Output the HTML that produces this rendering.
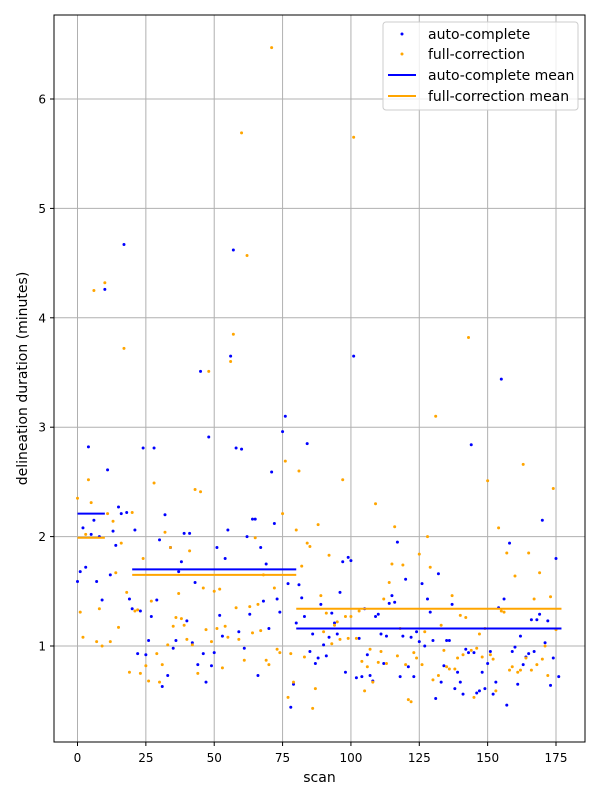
<!DOCTYPE html>
<html><head><meta charset="utf-8"><style>
body{margin:0;background:#fff;}
svg{display:block;font-family:"DejaVu Sans","Liberation Sans",sans-serif;}
</style></head><body>
<svg id="chart" width="600" height="800" viewBox="0 0 600 800" xmlns="http://www.w3.org/2000/svg">
<rect x="0" y="0" width="600" height="800" fill="#fff"/>
<g id="grid"></g>
<g id="marks"></g>
<rect x="54" y="15" width="531" height="727" fill="none" stroke="#000" stroke-width="1"/>
<g id="xticks"></g>
<g id="yticks"></g>
<text x="319.5" y="782" font-size="14" text-anchor="middle">scan</text>
<text transform="translate(27,378.5) rotate(-90)" font-size="14" text-anchor="middle">delineation duration (minutes)</text>
<g>
<rect x="383" y="22" width="195" height="88" rx="3" fill="#fff" fill-opacity="0.8" stroke="#ccc"/>
<circle cx="402" cy="34" r="1.5" fill="#0000ff"/>
<text x="428" y="39" font-size="14">auto-complete</text>
<circle cx="402" cy="54" r="1.5" fill="#ffa500"/>
<text x="428" y="59" font-size="14">full-correction</text>
<line x1="388" y1="75" x2="416" y2="75" stroke="#0000ff" stroke-width="2"/>
<text x="428" y="80" font-size="14">auto-complete mean</text>
<line x1="388" y1="96" x2="416" y2="96" stroke="#ffa500" stroke-width="2"/>
<text x="428" y="101" font-size="14">full-correction mean</text>
</g>
</svg>
<script>
const autoComplete=[1.59,1.68,2.08,1.72,2.82,2.02,2.15,1.59,2.0,1.42,4.26,2.61,1.65,2.05,1.92,2.27,2.21,4.67,2.22,1.43,1.34,2.06,0.93,1.32,2.81,0.92,1.05,1.27,2.81,1.42,1.97,0.63,2.2,0.73,1.9,0.98,1.05,1.68,1.77,2.03,1.23,2.03,1.03,1.58,0.83,3.51,0.93,0.67,2.91,0.82,0.94,1.9,1.28,1.09,1.8,2.06,3.65,4.62,2.81,1.13,2.8,0.98,2.0,1.29,2.16,2.16,0.73,1.9,1.41,1.75,1.16,2.59,2.12,1.43,1.31,2.96,3.1,1.57,0.44,0.65,1.21,1.56,1.44,1.27,2.85,0.95,1.11,0.84,0.89,1.38,1.01,0.91,1.08,1.3,1.21,1.11,1.49,1.77,0.76,1.81,1.78,3.65,0.71,1.07,0.72,1.34,0.92,0.73,0.68,1.27,1.29,1.11,0.84,1.09,1.39,1.46,1.4,1.95,0.72,1.09,1.61,0.81,1.08,0.72,1.13,1.04,1.57,1.0,1.43,1.31,1.05,0.52,1.66,0.67,0.82,1.05,1.05,1.38,0.61,0.76,0.67,0.56,0.97,0.94,2.84,0.94,0.57,0.59,0.76,0.61,0.84,0.95,0.56,0.67,1.35,3.44,1.43,0.46,1.94,0.95,0.99,0.65,1.09,0.83,0.9,0.93,1.24,0.95,1.24,1.29,2.15,1.03,1.23,0.64,0.89,1.8,0.72];
const fullCorrection=[2.35,1.31,1.08,2.02,2.52,2.31,4.25,1.04,1.34,1.0,4.32,2.21,1.04,2.14,1.67,1.17,1.94,3.72,1.49,0.76,2.22,1.32,1.33,0.75,1.8,0.82,0.68,1.41,2.49,0.93,0.67,0.83,2.04,1.01,1.9,1.18,1.26,1.48,1.25,1.19,1.06,1.87,1.01,2.43,0.75,2.41,1.53,1.15,3.51,1.04,1.5,1.16,1.52,0.8,1.18,1.08,3.6,3.85,1.35,1.06,5.69,0.87,4.57,1.36,1.12,1.99,1.38,1.14,1.65,0.87,0.83,6.47,1.53,0.97,0.94,2.21,2.69,0.53,0.93,0.67,2.06,2.6,1.73,0.9,1.94,1.91,0.43,0.61,2.11,1.46,1.13,1.3,1.83,1.02,1.19,1.22,1.06,2.52,1.27,1.07,1.27,5.65,1.07,1.32,0.86,0.59,0.81,0.97,0.67,2.3,0.85,0.95,1.43,0.84,1.58,1.75,2.09,0.91,1.16,1.74,0.83,0.51,0.49,0.94,0.89,1.84,0.83,1.13,2.0,1.72,0.69,3.1,0.73,1.19,0.96,0.81,0.79,1.46,0.79,0.89,1.28,0.92,1.26,3.82,0.96,0.53,0.98,1.11,0.9,1.16,2.51,0.92,0.88,0.59,2.08,1.32,1.31,1.85,0.78,0.81,1.64,0.76,0.78,2.66,0.89,1.85,0.78,1.43,0.83,1.67,0.88,1.0,0.73,1.45,2.44,1.15];
const meanSegStart=[0,20,80];
const meanSegEnd=[10,80,177];
const autoMeans=[2.21,1.70,1.16];
const fullMeans=[1.99,1.65,1.34];
const xTicks=[0,25,50,75,100,125,150,175];
const yTicks=[1,2,3,4,5,6];

const NS="http://www.w3.org/2000/svg";
const X0=77.5, XS=(556-77.5)/175;
const Y1=646, YS=(646-99)/5;
function xs(v){return X0+v*XS;}
function ys(v){return Y1-(v-1)*YS;}
function mk(tag,attrs,parent){const e=document.createElementNS(NS,tag);for(const k in attrs)e.setAttribute(k,attrs[k]);parent.appendChild(e);return e;}
const grid=document.getElementById('grid'),marks=document.getElementById('marks');
const xt=document.getElementById('xticks'),yt=document.getElementById('yticks');
xTicks.forEach(t=>{
  const l=mk('line',{x1:xs(t),x2:xs(t),y1:15,y2:742,stroke:'#b0b0b0','stroke-width':1},grid);
  
  
  const tk=mk('line',{x1:xs(t),x2:xs(t),y1:742,y2:746,stroke:'#000'},xt);
  
  
  const tx=mk('text',{x:xs(t),y:762,'font-size':12,'text-anchor':'middle'},xt);
  tx.textContent=t;
  
  
});
yTicks.forEach(t=>{
  const l=mk('line',{x1:54,x2:585,y1:ys(t),y2:ys(t),stroke:'#b0b0b0','stroke-width':1},grid);
  
  
  const tk=mk('line',{x1:50,x2:54,y1:ys(t),y2:ys(t),stroke:'#000'},yt);
  
  
  const tx=mk('text',{x:46,y:ys(t)+4.5,'font-size':12,'text-anchor':'end'},yt);
  tx.textContent=t;
  
  
});
autoComplete.forEach((v,i)=>{
  const c=mk('circle',{cx:xs(i),cy:ys(v),r:1.5,fill:'#0000ff'},marks);
  
  
});
fullCorrection.forEach((v,i)=>{
  const c=mk('circle',{cx:xs(i),cy:ys(v),r:1.5,fill:'#ffa500'},marks);
  
  
});
meanSegStart.forEach((s,k)=>{
  const a=mk('line',{x1:xs(s),x2:xs(meanSegEnd[k]),y1:ys(autoMeans[k]),y2:ys(autoMeans[k]),stroke:'#0000ff','stroke-width':2},marks);
  
  
  const f=mk('line',{x1:xs(s),x2:xs(meanSegEnd[k]),y1:ys(fullMeans[k]),y2:ys(fullMeans[k]),stroke:'#ffa500','stroke-width':2},marks);
  
  
});
</script>
</body></html>
